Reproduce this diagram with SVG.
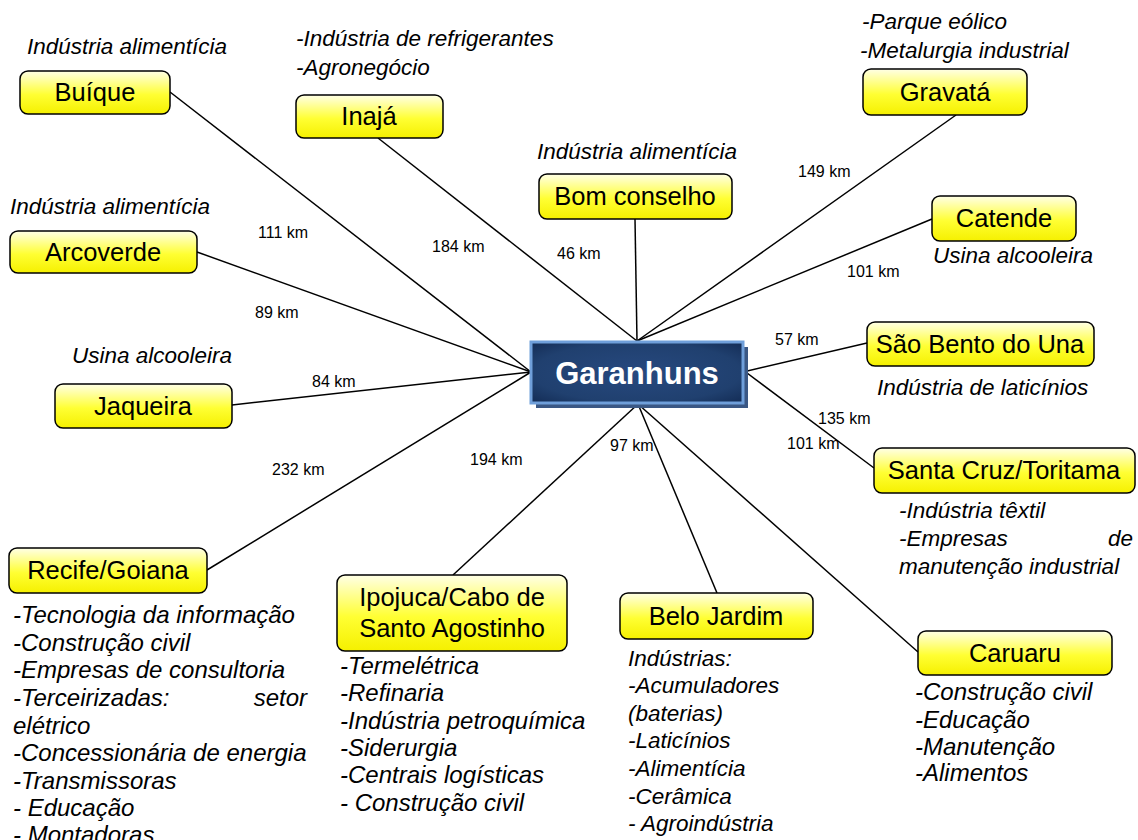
<svg xmlns="http://www.w3.org/2000/svg" width="1138" height="840" viewBox="0 0 1138 840">
<defs>
<linearGradient id="yg" x1="0" y1="0" x2="0" y2="1">
<stop offset="0" stop-color="#ffffe6"/>
<stop offset="0.55" stop-color="#ffff33"/>
<stop offset="1" stop-color="#f5f000"/>
</linearGradient>
<radialGradient id="bg" cx="0.5" cy="0.5" r="0.7">
<stop offset="0" stop-color="#27497f"/>
<stop offset="0.7" stop-color="#20406f"/>
<stop offset="1" stop-color="#132c55"/>
</radialGradient>
<style>
.box{fill:url(#yg);stroke:#000;stroke-width:1.5}
.lbl{font-family:"Liberation Sans",Arial,sans-serif;font-size:25.5px;fill:#000;text-anchor:middle}
.ann{font-family:"Liberation Sans",Arial,sans-serif;font-size:22.5px;font-style:italic;fill:#000}
.ann2{font-family:"Liberation Sans",Arial,sans-serif;font-size:24px;font-style:italic;fill:#000}
.km{font-family:"Liberation Sans",Arial,sans-serif;font-size:16px;fill:#000}
.conn line{stroke:#000;stroke-width:1.5}
</style>
</defs>
<rect width="1138" height="840" fill="#fff"/>

<g id="connectors" class="conn">
<line x1="170" y1="92" x2="531" y2="372"/>
<line x1="197" y1="252" x2="531" y2="372"/>
<line x1="232" y1="405" x2="531" y2="372"/>
<line x1="207" y1="570" x2="531" y2="372"/>
<line x1="378" y1="138" x2="637" y2="341"/>
<line x1="635" y1="219" x2="637" y2="341"/>
<line x1="956" y1="115" x2="637" y2="341"/>
<line x1="932" y1="219" x2="637" y2="341"/>
<line x1="867" y1="343" x2="743" y2="372"/>
<line x1="874" y1="468" x2="743" y2="370"/>
<line x1="453" y1="575" x2="638" y2="404"/>
<line x1="717" y1="593" x2="638" y2="404"/>
<line x1="918" y1="652" x2="638" y2="404"/>
</g>

<g id="distances">
<text class="km" x="258" y="238">111 km</text>
<text class="km" x="432" y="252">184 km</text>
<text class="km" x="557" y="259">46 km</text>
<text class="km" x="798" y="177">149 km</text>
<text class="km" x="847" y="277">101 km</text>
<text class="km" x="255" y="318">89 km</text>
<text class="km" x="775" y="345">57 km</text>
<text class="km" x="312" y="387">84 km</text>
<text class="km" x="818" y="424">135 km</text>
<text class="km" x="272" y="475">232 km</text>
<text class="km" x="470" y="465">194 km</text>
<text class="km" x="610" y="451">97 km</text>
<text class="km" x="787" y="449">101 km</text>
</g>

<g id="garanhuns">
<rect x="536" y="347" width="212" height="61" fill="#3a5784"/>
<rect x="531" y="342" width="212" height="61" fill="url(#bg)" stroke="#6f9fda" stroke-width="3"/>
<text x="637" y="384" font-family="'Liberation Sans',Arial,sans-serif" font-size="31" font-weight="bold" fill="#fff" text-anchor="middle">Garanhuns</text>
</g>

<g id="buique">
<rect class="box" x="20" y="71" width="150" height="43" rx="8"/>
<text class="lbl" x="95" y="101">Buíque</text>
<text class="ann" x="27" y="54">Indústria alimentícia</text>
</g>

<g id="inaja">
<rect class="box" x="296" y="95" width="147" height="43" rx="8"/>
<text class="lbl" x="369" y="125">Inajá</text>
<text class="ann" x="296" y="46">-Indústria de refrigerantes</text>
<text class="ann" x="296" y="75">-Agronegócio</text>
</g>

<g id="bomconselho">
<rect class="box" x="539" y="174" width="193" height="45" rx="8"/>
<text class="lbl" x="635" y="205">Bom conselho</text>
<text class="ann" x="537" y="159">Indústria alimentícia</text>
</g>

<g id="gravata">
<rect class="box" x="863" y="69" width="164" height="46" rx="8"/>
<text class="lbl" x="945" y="101">Gravatá</text>
<text class="ann" x="862" y="29">-Parque eólico</text>
<text class="ann" x="860" y="58">-Metalurgia industrial</text>
</g>

<g id="catende">
<rect class="box" x="932" y="196" width="144" height="45" rx="8"/>
<text class="lbl" x="1004" y="227">Catende</text>
<text class="ann" x="933" y="263">Usina alcooleira</text>
</g>

<g id="arcoverde">
<rect class="box" x="10" y="231" width="187" height="42" rx="8"/>
<text class="lbl" x="103" y="261">Arcoverde</text>
<text class="ann" x="10" y="214">Indústria alimentícia</text>
</g>

<g id="saobento">
<rect class="box" x="867" y="322" width="227" height="44" rx="8"/>
<text class="lbl" x="980" y="353">São Bento do Una</text>
<text class="ann" x="877" y="395">Indústria de laticínios</text>
</g>

<g id="jaqueira">
<rect class="box" x="55" y="384" width="177" height="44" rx="8"/>
<text class="lbl" x="143" y="415">Jaqueira</text>
<text class="ann" x="72" y="363">Usina alcooleira</text>
</g>

<g id="santacruz">
<rect class="box" x="874" y="448" width="261" height="45" rx="8"/>
<text class="lbl" x="1004" y="479">Santa Cruz/Toritama</text>
<text class="ann" x="899" y="518">-Indústria têxtil</text>
<text class="ann" x="899" y="546">-Empresas</text>
<text class="ann" x="1133" y="546" text-anchor="end">de</text>
<text class="ann" x="899" y="574">manutenção industrial</text>
</g>

<g id="recife">
<rect class="box" x="9" y="548" width="198" height="45" rx="8"/>
<text class="lbl" x="108" y="579">Recife/Goiana</text>
<text class="ann2" x="13" y="623">-Tecnologia da informação</text>
<text class="ann2" x="13" y="651">-Construção civil</text>
<text class="ann2" x="13" y="678">-Empresas de consultoria</text>
<text class="ann2" x="13" y="706">-Terceirizadas:</text>
<text class="ann2" x="307" y="706" text-anchor="end">setor</text>
<text class="ann2" x="13" y="734">elétrico</text>
<text class="ann2" x="13" y="761">-Concessionária de energia</text>
<text class="ann2" x="13" y="789">-Transmissoras</text>
<text class="ann2" x="13" y="816">- Educação</text>
<text class="ann2" x="13" y="843">- Montadoras</text>
</g>

<g id="ipojuca">
<rect class="box" x="337" y="575" width="230" height="76" rx="8"/>
<text class="lbl" x="452" y="606">Ipojuca/Cabo de</text>
<text class="lbl" x="452" y="637">Santo Agostinho</text>
<text class="ann2" x="340" y="674">-Termelétrica</text>
<text class="ann2" x="340" y="701">-Refinaria</text>
<text class="ann2" x="340" y="729">-Indústria petroquímica</text>
<text class="ann2" x="340" y="756">-Siderurgia</text>
<text class="ann2" x="340" y="783">-Centrais logísticas</text>
<text class="ann2" x="340" y="811">- Construção civil</text>
</g>

<g id="belojardim">
<rect class="box" x="620" y="593" width="193" height="46" rx="8"/>
<text class="lbl" x="716" y="625">Belo Jardim</text>
<text class="ann" x="628" y="666">Indústrias:</text>
<text class="ann" x="628" y="693">-Acumuladores</text>
<text class="ann" x="628" y="721">(baterias)</text>
<text class="ann" x="628" y="748">-Laticínios</text>
<text class="ann" x="628" y="776">-Alimentícia</text>
<text class="ann" x="628" y="804">-Cerâmica</text>
<text class="ann" x="628" y="831">- Agroindústria</text>
</g>

<g id="caruaru">
<rect class="box" x="918" y="631" width="194" height="44" rx="8"/>
<text class="lbl" x="1015" y="662">Caruaru</text>
<text class="ann2" x="915" y="700">-Construção civil</text>
<text class="ann2" x="915" y="728">-Educação</text>
<text class="ann2" x="915" y="755">-Manutenção</text>
<text class="ann2" x="915" y="781">-Alimentos</text>
</g>
</svg>
